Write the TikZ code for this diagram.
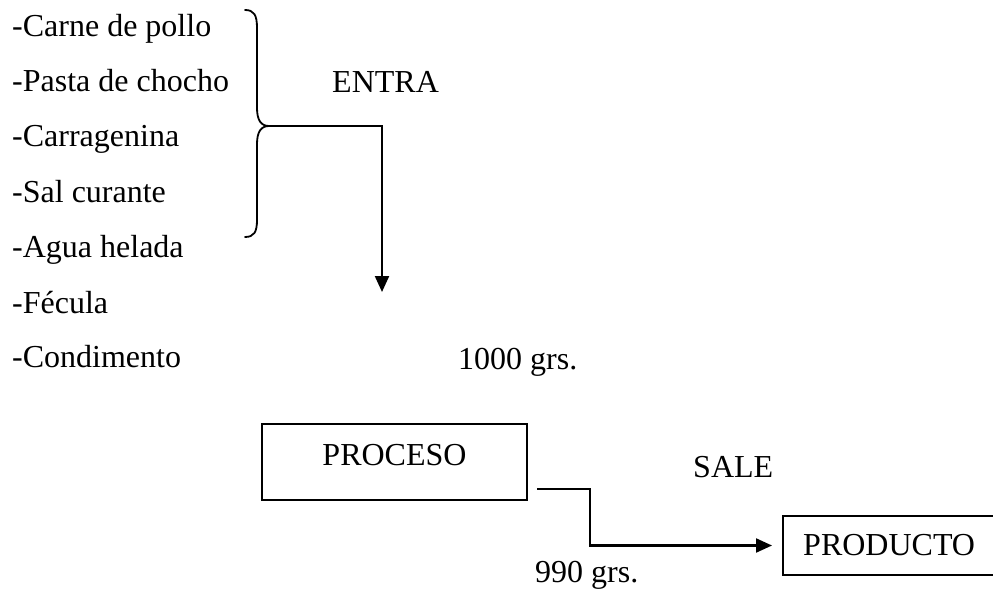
\documentclass[tikz,border=0pt]{standalone}
\usepackage{fontspec}
\setmainfont{Liberation Serif}
\usetikzlibrary{arrows.meta,calc}
\begin{document}
\begin{tikzpicture}[x=1pt,y=-1pt,
  txt/.style={anchor=base west,inner sep=0pt,font=\fontsize{32}{38}\selectfont},
  boxnode/.style={draw,line width=2.2pt,inner sep=0pt,font=\fontsize{32}{38}\selectfont},
  conn/.style={line width=2.2pt,-{Triangle[length=16pt,width=14pt]}},
  bracepath/.style={line width=1.8pt,line cap=round}]
\useasboundingbox (0,0) rectangle (993,596);
% ingredient list
\node[txt] (i1) at (12,37)  {-Carne de pollo};
\node[txt] (i2) at (12,92)  {-Pasta de chocho};
\node[txt] (i3) at (12,147) {-Carragenina};
\node[txt] (i4) at (12,203) {-Sal curante};
\node[txt] (i5) at (12,258) {-Agua helada};
\node[txt] (i6) at (12,313) {-Fécula};
\node[txt] (i7) at (12,367) {-Condimento};
% brace
\draw[bracepath] (245,10) .. controls (254,10) and (257,15) .. (257,28)
  -- (257,108) .. controls (257,120) and (261,126) .. (269,126)
  .. controls (261,126) and (257,132) .. (257,144)
  -- (257,220) .. controls (257,232) and (254,237) .. (245,237);
\coordinate (tip) at (269,126);
\coordinate (down) at (382,292);
\node[txt] (entra) at (332,92.5) {ENTRA};
\draw[conn] (tip) -| (down);
\node[txt] (kg1) at (458,369) {1000 grs.};
% process
\node[boxnode,minimum width=265pt,text height=41pt,text depth=35pt] (proc) at (394.5,462) {PROCESO};
\node[txt] (sale) at (693,477) {SALE};
\node[boxnode,minimum width=260pt,minimum height=59pt,anchor=west] (prod) at (782,545.5) {};
\node[txt] (prodtxt) at (803,555) {PRODUCTO};
\draw[conn] ($(proc.south east)+(9,-12)$) -- ++(53,0) |- (prod.west) [shorten >=10pt];
\node[txt] (kg2) at (535,582) {990 grs.};
\end{tikzpicture}
\end{document}
